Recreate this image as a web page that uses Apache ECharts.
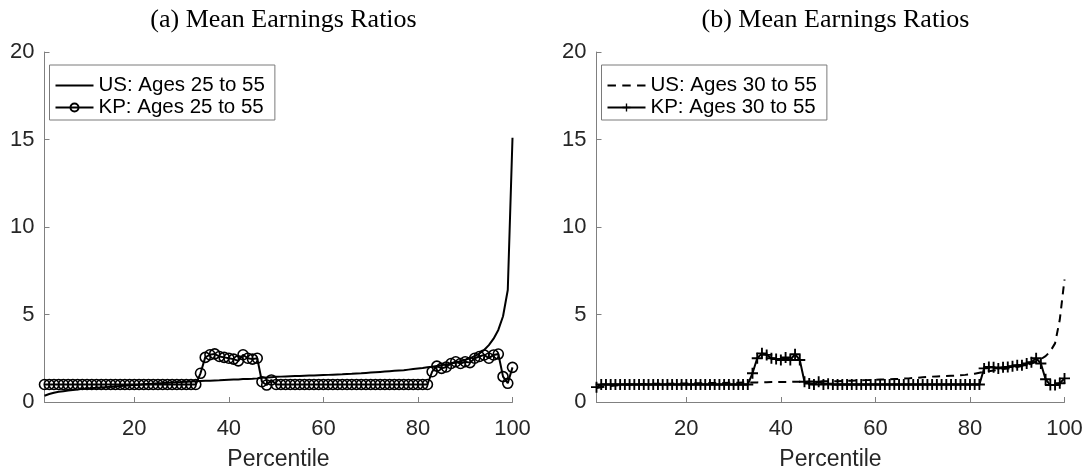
<!DOCTYPE html>
<html>
<head>
<meta charset="utf-8">
<script src="https://cdn.jsdelivr.net/npm/echarts@6/dist/echarts.min.js"></script>
<style>
  html, body { margin: 0; padding: 0; background: #fff; }
  #chart { width: 1089px; height: 472px; }
</style>
</head>
<body>
<div id="chart"></div>
<script>
// Percentiles 1..100
const percentiles = Array.from({ length: 100 }, (_, i) => i + 1);

// (a) Ages 25 to 55
const usAges25to55 = [
  0.36, 0.46, 0.53, 0.58, 0.62, 0.66, 0.69, 0.72, 0.75, 0.77,
  0.79, 0.81, 0.83, 0.85, 0.87, 0.89, 0.91, 0.93, 0.95, 0.97,
  0.99, 1.01, 1.03, 1.05, 1.07, 1.08, 1.10, 1.11, 1.13, 1.14,
  1.16, 1.17, 1.19, 1.20, 1.21, 1.22, 1.23, 1.24, 1.26, 1.27,
  1.28, 1.29, 1.31, 1.32, 1.33, 1.35, 1.38, 1.40, 1.42, 1.44,
  1.45, 1.46, 1.47, 1.48, 1.49, 1.50, 1.51, 1.52, 1.53, 1.54,
  1.55, 1.56, 1.57, 1.58, 1.60, 1.61, 1.63, 1.64, 1.66, 1.68,
  1.70, 1.72, 1.74, 1.76, 1.78, 1.80, 1.82, 1.85, 1.88, 1.91,
  1.94, 1.98, 2.02, 2.06, 2.10, 2.15, 2.20, 2.26, 2.33, 2.41,
  2.50, 2.62, 2.77, 2.97, 3.25, 3.62, 4.12, 4.90, 6.40, 15.10
];
const kpAges25to55 = [
  1.00, 1.00, 1.00, 1.00, 1.00, 1.00, 1.00, 1.00, 1.00, 1.00,
  1.00, 1.00, 1.00, 1.00, 1.00, 1.00, 1.00, 1.00, 1.00, 1.00,
  1.00, 1.00, 1.00, 1.00, 1.00, 1.00, 1.00, 1.00, 1.00, 1.00,
  1.00, 1.00, 1.00, 1.64, 2.55, 2.70, 2.75, 2.60, 2.55, 2.50,
  2.45, 2.35, 2.70, 2.50, 2.45, 2.50, 1.16, 0.97, 1.26, 1.00,
  1.00, 1.00, 1.00, 1.00, 1.00, 1.00, 1.00, 1.00, 1.00, 1.00,
  1.00, 1.00, 1.00, 1.00, 1.00, 1.00, 1.00, 1.00, 1.00, 1.00,
  1.00, 1.00, 1.00, 1.00, 1.00, 1.00, 1.00, 1.00, 1.00, 1.00,
  1.00, 1.00, 1.73, 2.05, 1.92, 2.00, 2.20, 2.30, 2.20, 2.30,
  2.25, 2.50, 2.60, 2.69, 2.50, 2.69, 2.74, 1.45, 1.07, 1.98
];

// (b) Ages 30 to 55
const usAges30to55 = [
  0.80, 0.84, 0.88, 0.91, 0.94, 0.96, 0.98, 1.00, 1.01, 1.02,
  1.03, 1.03, 1.04, 1.04, 1.05, 1.05, 1.05, 1.06, 1.06, 1.06,
  1.07, 1.07, 1.07, 1.08, 1.08, 1.08, 1.09, 1.09, 1.10, 1.10,
  1.10, 1.11, 1.11, 1.12, 1.12, 1.13, 1.13, 1.14, 1.14, 1.15,
  1.15, 1.15, 1.16, 1.16, 1.16, 1.17, 1.17, 1.17, 1.18, 1.18,
  1.19, 1.19, 1.20, 1.21, 1.22, 1.23, 1.24, 1.25, 1.26, 1.27,
  1.28, 1.29, 1.30, 1.31, 1.32, 1.34, 1.35, 1.37, 1.39, 1.41,
  1.43, 1.45, 1.46, 1.47, 1.48, 1.50, 1.51, 1.53, 1.55, 1.58,
  1.62, 1.67, 1.72, 1.76, 1.80, 1.84, 1.88, 1.92, 1.96, 2.00,
  2.06, 2.12, 2.20, 2.30, 2.45, 2.62, 2.90, 3.35, 4.70, 7.00
];
const kpAges30to55 = [
  0.85, 1.00, 1.00, 1.00, 1.00, 1.00, 1.00, 1.00, 1.00, 1.00,
  1.00, 1.00, 1.00, 1.00, 1.00, 1.00, 1.00, 1.00, 1.00, 1.00,
  1.00, 1.00, 1.00, 1.00, 1.00, 1.00, 1.00, 1.00, 1.00, 1.00,
  1.00, 1.00, 1.00, 1.64, 2.50, 2.78, 2.69, 2.50, 2.46, 2.40,
  2.54, 2.40, 2.73, 2.40, 1.16, 1.06, 1.00, 1.16, 1.00, 1.05,
  1.00, 1.00, 1.00, 1.00, 1.00, 1.00, 1.00, 1.00, 1.00, 1.00,
  1.00, 1.00, 1.00, 1.00, 1.00, 1.00, 1.00, 1.00, 1.00, 1.00,
  1.00, 1.00, 1.00, 1.00, 1.00, 1.00, 1.00, 1.00, 1.00, 1.00,
  1.00, 1.00, 1.92, 2.00, 1.98, 1.92, 1.98, 2.00, 2.04, 2.10,
  2.10, 2.20, 2.27, 2.50, 2.20, 1.30, 0.97, 0.97, 1.07, 1.35
];

const xTicks = [20, 40, 60, 80, 100];
const panelTitles = ['(a) Mean Earnings Ratios', '(b) Mean Earnings Ratios'];
const seriesNames = [
  'US: Ages 25 to 55', 'KP: Ages 25 to 55',
  'US: Ages 30 to 55', 'KP: Ages 30 to 55'
];

const pairs = (ys) => percentiles.map((p, i) => [p, ys[i]]);

const AXIS_GRAY = '#808080';
const TEXT_DARK = '#262626';
const SANS = 'Liberation Sans, Arial, Helvetica, sans-serif';
// filled plus-sign marker
const PLUS = 'path://M-1,-0.17 L-0.17,-0.17 L-0.17,-1 L0.17,-1 L0.17,-0.17 L1,-0.17 L1,0.17 L0.17,0.17 L0.17,1 L-0.17,1 L-0.17,0.17 L-1,0.17 Z';
// legend samples: plain solid stroke and a "- - ." dashed stroke
const SOLID_ICON = 'path://M0,0 L38,0 L38,2 L0,2 Z';
const DASH_ICON = 'path://M0,0 L8,0 L8,2 L0,2 Z M14,0 L22,0 L22,2 L14,2 Z M28,0 L36,0 L36,2 L28,2 Z';

const gridLefts = [44.5, 596.5];
const GRID_W = 468;

function xAxisFor(i) {
  return {
    type: 'value', gridIndex: i, min: 1, max: 100,
    name: 'Percentile', nameLocation: 'middle', nameGap: 46,
    nameTextStyle: { fontFamily: SANS, fontSize: 23, color: TEXT_DARK },
    axisLine: { show: true, lineStyle: { color: AXIS_GRAY, width: 1 } },
    axisTick: { show: true, inside: true, length: 5, customValues: xTicks,
                lineStyle: { color: AXIS_GRAY, width: 1 } },
    axisLabel: { customValues: xTicks, margin: 16, fontFamily: SANS, fontSize: 22, color: TEXT_DARK },
    splitLine: { show: false }
  };
}
function yAxisFor(i) {
  return {
    type: 'value', gridIndex: i, min: 0, max: 20, interval: 5,
    axisLine: { show: true, lineStyle: { color: AXIS_GRAY, width: 1 } },
    axisTick: { show: true, inside: true, length: 5, lineStyle: { color: AXIS_GRAY, width: 1 } },
    axisLabel: { margin: 10, fontFamily: SANS, fontSize: 22, color: TEXT_DARK },
    splitLine: { show: false }
  };
}
function legendFor(i, items) {
  return {
    data: items, orient: 'vertical',
    left: gridLefts[i] + 5, top: 65,
    itemWidth: 38, itemHeight: 10, itemGap: 1,
    padding: [10, 10, 2, 5],
    borderColor: '#7a7a7a', borderWidth: 1, backgroundColor: '#fff',
    textStyle: { fontFamily: SANS, fontSize: 20.5, color: '#000' },
    selectedMode: false
  };
}

const option = {
  animation: false,
  backgroundColor: '#fff',
  title: panelTitles.map((t, i) => ({
    text: t, left: gridLefts[i] + GRID_W / 2, top: 2, textAlign: 'center',
    textStyle: { fontFamily: 'Liberation Serif, DejaVu Serif, serif', fontSize: 26,
                 fontWeight: 'normal', color: '#000' }
  })),
  grid: gridLefts.map((l) => ({
    left: l, top: 52, width: GRID_W, height: 350, outerBoundsMode: 'none', containLabel: false
  })),
  xAxis: [xAxisFor(0), xAxisFor(1)],
  yAxis: [yAxisFor(0), yAxisFor(1)],
  legend: [
    legendFor(0, [{ name: seriesNames[0], icon: SOLID_ICON }, { name: seriesNames[1] }]),
    legendFor(1, [{ name: seriesNames[2], icon: DASH_ICON }, { name: seriesNames[3] }])
  ],
  series: [
    {
      name: seriesNames[0], type: 'line', xAxisIndex: 0, yAxisIndex: 0,
      data: pairs(usAges25to55), symbol: 'none', clip: false,
      lineStyle: { color: '#000', width: 2 }, itemStyle: { color: '#000' }
    },
    {
      name: seriesNames[1], type: 'line', xAxisIndex: 0, yAxisIndex: 0,
      data: pairs(kpAges25to55), symbol: 'circle', symbolSize: 10, showAllSymbol: true, clip: false,
      lineStyle: { color: '#000', width: 2 },
      itemStyle: { color: 'rgba(0,0,0,0)', borderColor: '#000', borderWidth: 1.6 }
    },
    {
      name: seriesNames[2], type: 'line', xAxisIndex: 1, yAxisIndex: 1,
      data: pairs(usAges30to55), symbol: 'none', clip: false,
      lineStyle: { color: '#000', width: 2, type: [8, 6] }, itemStyle: { color: '#000' }
    },
    {
      name: seriesNames[3], type: 'line', xAxisIndex: 1, yAxisIndex: 1,
      data: pairs(kpAges30to55), symbol: PLUS, symbolSize: 11, showAllSymbol: true, clip: false,
      lineStyle: { color: '#000', width: 2 }, itemStyle: { color: '#000' }
    }
  ]
};

const chart = echarts.init(document.getElementById('chart'), null, { renderer: 'canvas' });
chart.setOption(option);
</script>
</body>
</html>
